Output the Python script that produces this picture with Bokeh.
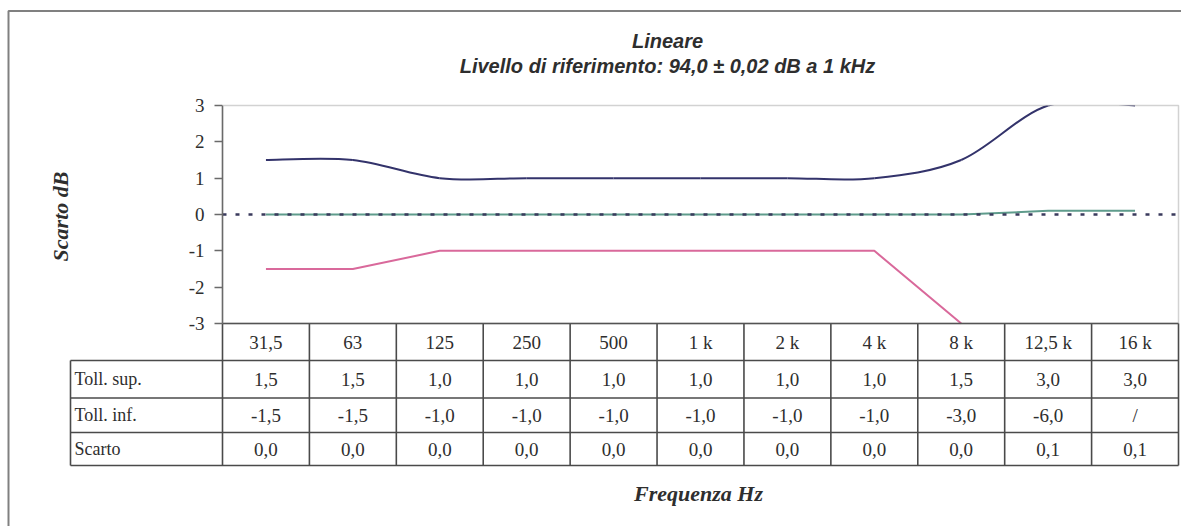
import numpy as np
from bokeh.plotting import figure
from bokeh.models import Range1d, LinearAxis, FixedTicker, BoxAnnotation
from bokeh.core.properties import value
from bokeh.embed import file_html
from bokeh.resources import INLINE

# ---------------- data ----------------
freq_labels = ["31,5", "63", "125", "250", "500", "1 k", "2 k", "4 k", "8 k", "12,5 k", "16 k"]
toll_sup = [1.5, 1.5, 1.0, 1.0, 1.0, 1.0, 1.0, 1.0, 1.5, 3.0, 3.0]
toll_inf = [-1.5, -1.5, -1.0, -1.0, -1.0, -1.0, -1.0, -1.0, -3.0, -6.0, None]
scarto = [0.0, 0.0, 0.0, 0.0, 0.0, 0.0, 0.0, 0.0, 0.0, 0.1, 0.1]
row_labels = ["Toll. sup.", "Toll. inf.", "Scarto"]
y_ticks = [-3, -2, -1, 0, 1, 2, 3]
title_lines = ["Lineare", "Livello di riferimento: 94,0 \u00b1 0,02 dB a 1 kHz"]
x_title = "Frequenza Hz"
y_title = "Scarto dB"

# ---------------- layout (pixels) ----------------
W, H = 1181, 526
PL, PR = 222, 1178      # plot area left / right
PT, PB = 105, 323       # plot area top / bottom
n = len(freq_labels)
YMIN, YMAX = min(y_ticks), max(y_ticks)
COL = (PR - PL) / n
UNIT = (PB - PT) / (YMAX - YMIN)


def X(px):
    return (px - PL) / COL


def Y(py):
    return YMAX - (py - PT) / UNIT


SERIF = value("Liberation Serif")
SANS = value("Liberation Sans")
TXT = "#2e2e2e"
GRIDC = "#4a4a4a"

p = figure(width=W, height=H, x_range=Range1d(X(0), X(W)), y_range=Range1d(Y(H), Y(0)),
           output_backend="svg", toolbar_location=None, x_axis_type=None, y_axis_type=None,
           min_border=0, outline_line_color=None, background_fill_color="white",
           border_fill_color="white")

# outer frame (top + left)
p.line(x=[X(8), X(8), X(W + 20)], y=[Y(H + 20), Y(10.5), Y(10.5)], line_color="#808080", line_width=2)

xs = np.arange(n) + 0.5

# zero reference / Scarto
p.line(x=xs, y=scarto, line_color="#5f9c8c", line_width=2)
p.segment(x0=0, y0=0, x1=n, y1=0, line_color="#3a3a5c", line_width=2.5, line_dash="4 9")

# lower tolerance (straight segments, visible part within the axis range)
inf = np.array([np.nan if v is None else v for v in toll_inf], dtype=float)
ok = ~np.isnan(inf) & (inf >= YMIN)
p.line(x=xs[ok], y=inf[ok], line_color="#d9699b", line_width=2)

# upper tolerance (smoothed, Catmull-Rom as cubic Bezier)
sup = np.array(toll_sup, dtype=float)
i = np.arange(n - 1)
i0 = np.maximum(i - 1, 0)
i3 = np.minimum(i + 2, n - 1)
p.bezier(x0=xs[i], y0=sup[i], x1=xs[i + 1], y1=sup[i + 1],
         cx0=xs[i] + (xs[i + 1] - xs[i0]) / 6, cy0=sup[i] + (sup[i + 1] - sup[i0]) / 6,
         cx1=xs[i + 1] - (xs[i3] - xs[i]) / 6, cy1=sup[i + 1] - (sup[i3] - sup[i]) / 6,
         line_color="#33336b", line_width=2)

# hide the part of the smoothed curve beyond the top of the axis
p.add_layout(BoxAnnotation(left=0, right=n, bottom=YMAX, top=Y(PT - 15), fill_color="white",
                           fill_alpha=1.0, line_color=None))
# plot area outline
p.add_layout(BoxAnnotation(left=0, right=n, bottom=YMIN, top=YMAX, fill_color=None,
                           fill_alpha=0, line_color="#6a6a6a", line_width=1.5))

# y axis
yaxis = LinearAxis(fixed_location=0, bounds=(YMIN, YMAX), ticker=FixedTicker(ticks=y_ticks),
                   major_label_overrides={t: str(t) for t in y_ticks},
                   major_tick_in=0, major_tick_out=8, minor_tick_in=0, minor_tick_out=0,
                   axis_line_color="#6a6a6a", axis_line_width=1.5,
                   major_tick_line_color="#6a6a6a", major_tick_line_width=1.5,
                   major_label_text_font="Liberation Serif", major_label_text_font_size="19px",
                   major_label_text_color=TXT, major_label_standoff=10)
p.add_layout(yaxis, "left")

# ---------------- data table ----------------
row_y = [YMIN, Y(360), Y(397.5), Y(432), Y(465)]
XL = X(70)
hx0 = [0] + [XL] * 4
hx1 = [n] * 5
p.segment(x0=hx0, y0=row_y, x1=hx1, y1=row_y, line_color=GRIDC, line_width=1.6)
vx = [XL] + list(range(n + 1))
vy0 = [row_y[1]] + [YMIN] * (n + 1)
vy1 = [row_y[4]] * (n + 2)
p.segment(x0=vx, y0=vy0, x1=vx, y1=vy1, line_color=GRIDC, line_width=1.6)


def fmt(v):
    return "/" if v is None else f"{v:.1f}".replace(".", ",")


mids = [(row_y[k] + row_y[k + 1]) / 2 for k in range(4)]
p.text(x=xs, y=[mids[0]] * n, text=freq_labels, text_align="center", text_baseline="middle",
       text_font=SERIF, text_font_size="19px", text_color=TXT)
for k, vals in enumerate([toll_sup, toll_inf, scarto]):
    p.text(x=xs, y=[mids[k + 1]] * n, text=[fmt(v) for v in vals], text_align="center",
           text_baseline="middle", text_font=SERIF, text_font_size="19px", text_color=TXT)
p.text(x=[X(74)] * 3, y=mids[1:], text=row_labels, text_align="left", text_baseline="middle",
       text_font=SERIF, text_font_size="18px", text_color=TXT)

# ---------------- titles ----------------
p.text(x=[X(667)], y=[Y(40)], text=[title_lines[0]], text_align="center", text_baseline="middle",
       text_font=SANS, text_font_style="bold italic", text_font_size="20px", text_color=TXT)
p.text(x=[X(667)], y=[Y(65)], text=[title_lines[1]], text_align="center", text_baseline="middle",
       text_font=SANS, text_font_style="bold italic", text_font_size="20px", text_color=TXT)
p.text(x=[X(698)], y=[Y(493)], text=[x_title], text_align="center", text_baseline="middle",
       text_font=SERIF, text_font_style="bold italic", text_font_size="22px", text_color=TXT)
p.text(x=[X(60)], y=[Y(216)], text=[y_title], text_align="center", text_baseline="middle",
       angle=np.pi / 2, text_font=SERIF, text_font_style="bold italic", text_font_size="22px",
       text_color=TXT)

open("out.html", "w").write(file_html(p, INLINE))
